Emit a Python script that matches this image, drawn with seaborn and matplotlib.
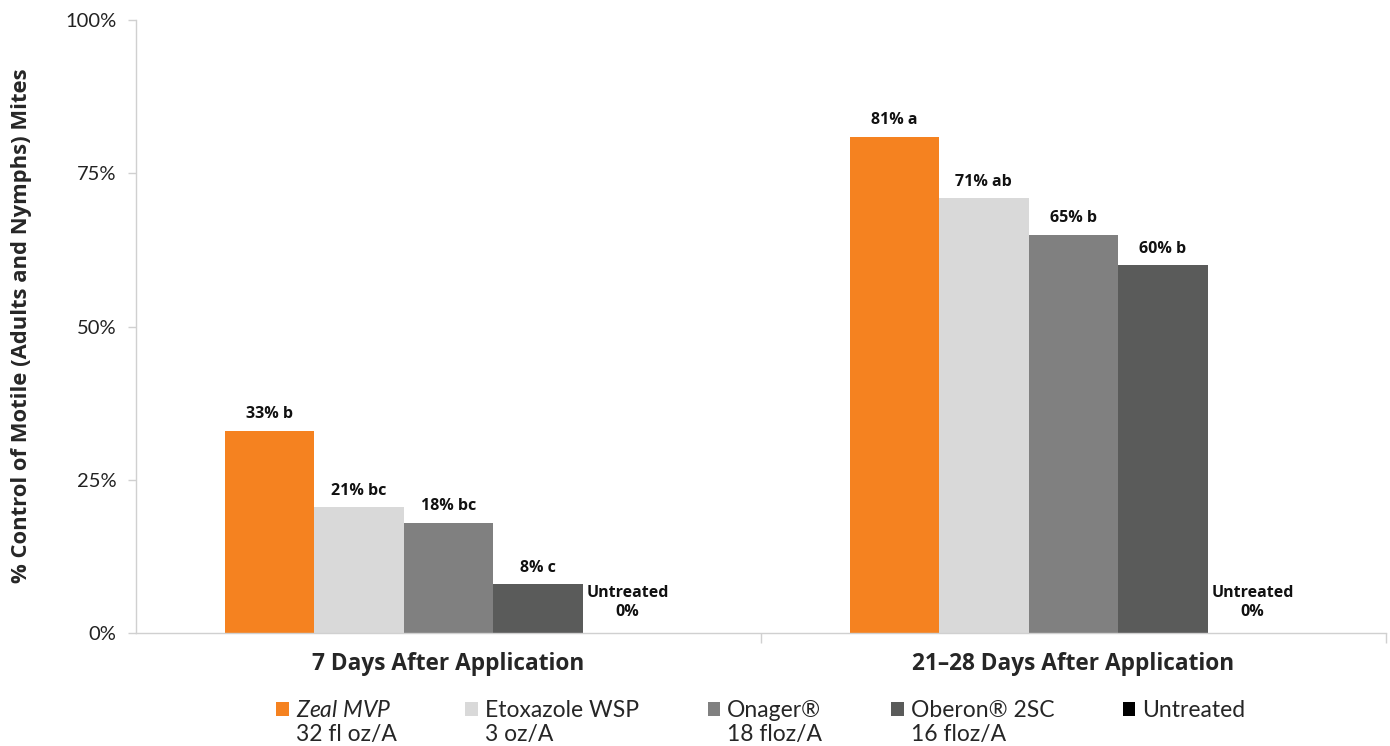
import pandas as pd
import matplotlib.pyplot as plt
import seaborn as sns
from matplotlib.patches import Patch
from matplotlib.ticker import FuncFormatter, FixedLocator

# data
groups = ["7 Days After Application", "21\u201328 Days After Application"]
treatments = ["Zeal MVP", "Etoxazole WSP", "Onager\u00ae", "Oberon\u00ae 2SC", "Untreated"]
legend_names = [r"$\it{Zeal\ MVP}$", "Etoxazole WSP", "Onager\u00ae", "Oberon\u00ae 2SC", "Untreated"]
rates = ["32 fl oz/A", "3 oz/A", "18 floz/A", "16 floz/A", " "]
values_7 = [33, 20.5, 18, 8, 0]
values_21 = [81, 71, 65, 60, 0]
letters_7 = ["33% b", "21% bc", "18% bc", "8% c", "Untreated\n0%"]
letters_21 = ["81% a", "71% ab", "65% b", "60% b", "Untreated\n0%"]
colors = ["#F58220", "#D9D9D9", "#808080", "#5A5B5A", "#000000"]

df = pd.DataFrame({
    "group": [groups[0]] * 5 + [groups[1]] * 5,
    "treatment": treatments * 2,
    "value": values_7 + values_21,
})

sns.set_theme(style="white")
plt.rcParams["font.family"] = ["Lato", "DejaVu Sans"]
plt.rcParams["mathtext.fontset"] = "custom"
plt.rcParams["mathtext.it"] = "Lato:italic"
plt.rcParams["mathtext.rm"] = "Lato"
bold_font = ["Open Sans", "DejaVu Sans"]

fig = plt.figure(figsize=(13.9, 7.46), dpi=100)
ax = fig.add_axes([0.0978, 0.1515, 0.8992, 0.8215])

sns.barplot(data=df, x="group", y="value", hue="treatment", hue_order=treatments,
            palette=colors, width=0.716, linewidth=0, saturation=1, ax=ax, legend=False)

ax.set_ylim(0, 100)
ax.set_xlim(-0.5, 1.5)
ax.set_yticks([0, 25, 50, 75, 100])
ax.yaxis.set_major_formatter(FuncFormatter(lambda v, p: f"{v:.0f}%"))
ax.tick_params(axis="y", left=True, length=6, width=1, color="#D0D0D0",
               labelsize=14.5, labelcolor="#222222", pad=8)
ax.tick_params(axis="x", which="major", length=0, pad=14)
ax.xaxis.set_minor_locator(FixedLocator([0.5, 1.5]))
ax.tick_params(axis="x", which="minor", bottom=True, length=7, width=1, color="#D0D0D0")
for lab in ax.get_xticklabels():
    lab.set_fontweight("bold")
    lab.set_family(bold_font)
    lab.set_fontsize(16.3)
ax.set_xlabel("")
ax.set_ylabel("% Control of Motile (Adults and Nymphs) Mites", fontsize=15.8,
              fontweight="bold", family=bold_font)
ax.yaxis.set_label_coords(-0.083, 0.502)

for s in ["top", "right"]:
    ax.spines[s].set_visible(False)
for s in ["left", "bottom"]:
    ax.spines[s].set_color("#D0D0D0")
    ax.spines[s].set_linewidth(1)

for i, cont in enumerate(ax.containers):
    labs = [letters_7[i], letters_21[i]]
    ax.bar_label(cont, labels=labs, padding=6 if i < 4 else 9, fontsize=11.5,
                 fontweight="bold", family=bold_font, color="#111111", linespacing=1.25)

handles = [Patch(facecolor=c, edgecolor="none") for c in colors]
legend_labels = [f"{n}\n{r}" for n, r in zip(legend_names, rates)]
leg = ax.legend(handles, legend_labels, loc="upper center", bbox_to_anchor=(0.5, -0.075),
                ncol=5, frameon=False, fontsize=16.5, handlelength=0.55, handleheight=0.55,
                handletextpad=0.3, columnspacing=3.0)
# lift the square markers to sit beside the first label line
for h in leg.legend_handles:
    h.set_y(h.get_y() + 0.6 * 16.5)

fig.savefig("out.png", dpi=100)
